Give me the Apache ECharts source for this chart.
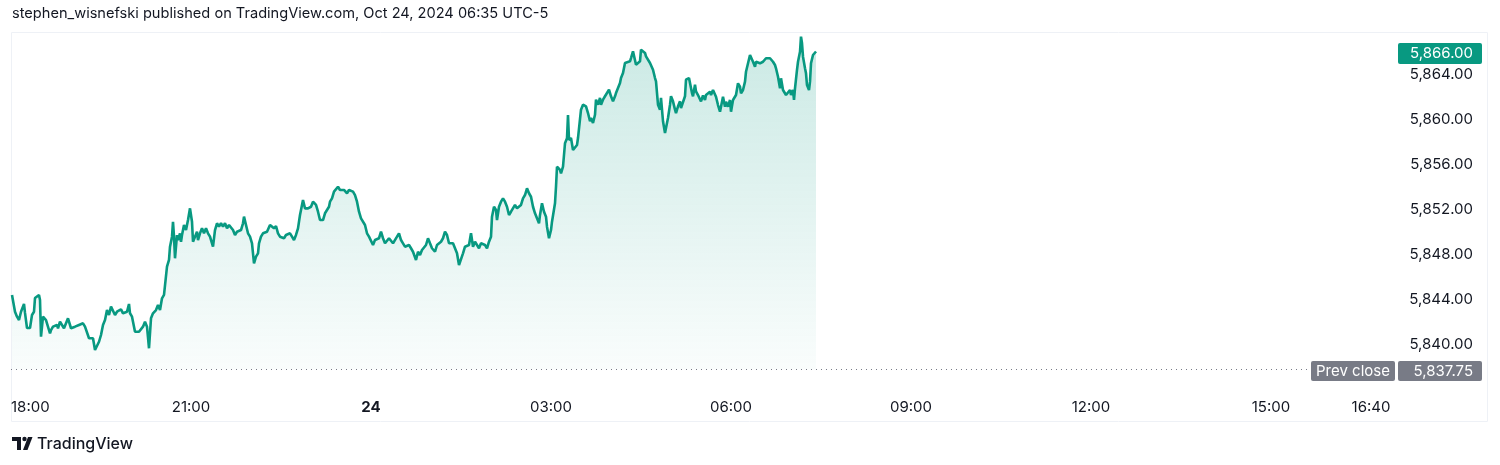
<!DOCTYPE html>
<html><head><meta charset="utf-8">
<script src="https://cdn.jsdelivr.net/npm/echarts@6/dist/echarts.min.js"></script>
<style>html,body{margin:0;padding:0;background:#fff}#c{width:1500px;height:465px}</style>
</head><body><div id="c"></div>
<script>
// minutes elapsed since 18:00 (Oct 23) and ES price
const minutes = [1,4,6,8,10,12,13,14,16,18,19,21,23,24,26,28,29,30,32,34,35,37,39,40,42,44,46,47,49,51,53,55,57,59,60,62,64,66,68,70,72,74,76,78,80,82,84,86,88,90,92,94,96,98,100,102,104,106,108,110,112,114,116,118,119,121,123,124,126,128,130,132,134,136,138,140,142,145,147,149,151,153,155,156,158,159,161,162,163,164,166,167,169,170,171,173,175,176,177,179,181,182,184,186,187,189,191,193,195,197,199,201,202,204,206,208,210,212,214,216,218,220,222,224,226,228,230,232,233,235,237,239,241,243,245,247,248,250,252,254,256,258,259,261,263,265,267,269,271,273,275,277,279,281,283,285,287,289,290,292,294,295,297,299,300,302,304,305,307,309,310,312,314,316,318,319,321,323,325,327,329,331,333,335,336,338,340,342,344,346,348,350,352,354,356,358,360,362,364,366,368,370,372,374,376,378,380,382,384,386,388,390,392,394,396,398,400,402,403,405,407,409,411,413,415,417,419,421,424,426,428,430,432,434,436,438,440,442,444,446,448,450,452,454,456,458,460,462,464,466,468,470,472,474,476,478,480,481,483,485,486,488,490,492,494,496,498,500,502,504,506,508,510,512,514,516,518,520,522,524,526,528,529,531,533,535,536,538,540,541,542,544,545,546,548,549,550,552,553,554,556,557,558,560,562,566,567,570,572,574,575,577,579,580,582,584,585,587,589,590,592,594,596,598,600,602,604,605,607,609,610,612,613,614,616,619,620,622,624,625,627,629,630,632,634,635,637,639,640,642,644,645,647,649,650,652,654,655,657,659,660,662,664,665,667,669,670,672,674,675,678,680,681,682,684,685,687,689,690,692,694,695,697,699,700,702,704,705,707,709,710,712,714,715,717,719,720,722,724,725,727,729,730,732,734,735,737,739,740,742,744,745,747,749,750,752,754,755,757,759,760,762,764,765,767,769,770,772,774,775,777,779,780,782,783,784,786,787,789,790,791,792,794,795,796,798,799,800,802,803,804,805];
const prices = [5844.36,5842.87,5842.43,5842.13,5842.87,5843.02,5843.56,5842.76,5841.42,5841.54,5841.42,5842.58,5842.87,5844.09,5844.00,5844.36,5843.91,5840.65,5842.43,5842.58,5842.13,5841.98,5840.95,5841.24,5841.54,5841.40,5841.69,5841.40,5841.98,5841.69,5841.40,5841.84,5842.28,5842.28,5841.40,5841.40,5841.54,5841.40,5841.69,5841.54,5841.84,5841.54,5841.69,5840.51,5840.36,5840.51,5839.47,5839.47,5840.20,5840.80,5841.69,5842.13,5843.02,5842.58,5843.32,5843.47,5842.58,5842.87,5842.73,5843.08,5842.73,5842.87,5842.87,5843.56,5842.73,5842.43,5842.28,5841.09,5841.24,5841.09,5840.95,5841.54,5841.98,5841.54,5839.62,5842.28,5842.73,5843.02,5843.47,5843.02,5844.06,5844.36,5844.36,5846.87,5847.47,5848.65,5849.54,5850.87,5849.54,5847.62,5849.69,5849.24,5849.84,5849.09,5849.69,5850.58,5850.13,5850.58,5851.02,5852.06,5850.87,5849.09,5849.54,5849.98,5849.24,5849.84,5850.28,5849.84,5850.28,5849.84,5849.54,5848.95,5848.65,5850.13,5850.73,5850.43,5850.73,5850.43,5850.73,5850.28,5850.58,5850.43,5850.13,5849.69,5849.98,5849.84,5850.13,5850.73,5851.32,5850.58,5849.84,5849.54,5848.95,5847.17,5847.76,5848.06,5848.95,5849.54,5849.84,5849.84,5849.98,5850.13,5850.58,5850.43,5850.28,5850.49,5849.84,5849.54,5849.40,5849.40,5849.69,5849.84,5849.84,5849.54,5849.24,5849.69,5850.28,5851.47,5851.62,5852.80,5852.06,5851.91,5852.06,5851.91,5852.20,5852.65,5852.80,5852.36,5851.76,5851.02,5850.87,5851.02,5851.62,5851.91,5852.20,5852.65,5852.95,5853.54,5853.69,5853.98,5853.69,5853.54,5853.69,5853.84,5853.40,5853.69,5853.84,5853.54,5853.24,5852.65,5851.76,5851.17,5851.02,5850.58,5849.84,5849.54,5849.54,5848.80,5849.24,5849.09,5849.40,5849.98,5849.40,5848.95,5849.09,5849.40,5849.54,5848.95,5849.09,5849.54,5849.84,5849.24,5848.95,5848.65,5848.80,5848.80,5848.51,5848.20,5848.36,5847.47,5848.20,5847.91,5848.36,5848.20,5848.80,5849.40,5848.95,5848.51,5848.20,5848.80,5848.65,5849.09,5849.40,5849.98,5849.69,5848.95,5849.09,5848.95,5849.09,5848.06,5847.02,5846.87,5848.06,5848.65,5848.80,5848.80,5849.84,5848.65,5849.09,5848.80,5848.51,5848.95,5849.09,5848.80,5848.51,5849.09,5849.54,5851.32,5852.20,5851.91,5851.02,5852.20,5852.65,5852.95,5852.65,5852.20,5851.47,5851.76,5851.91,5852.36,5852.06,5851.91,5852.36,5852.95,5853.24,5853.84,5853.40,5853.09,5852.20,5851.62,5851.17,5850.73,5851.47,5852.51,5851.76,5851.32,5850.43,5849.40,5850.13,5850.87,5850.73,5852.51,5853.98,5855.76,5855.91,5855.47,5855.17,5855.76,5856.80,5857.84,5858.28,5860.36,5858.13,5858.31,5857.24,5857.69,5858.31,5860.83,5861.27,5861.42,5861.13,5860.53,5859.80,5860.09,5859.64,5860.38,5861.72,5861.27,5861.87,5861.27,5861.72,5862.02,5862.16,5862.60,5862.02,5861.57,5862.02,5862.31,5862.31,5863.20,5863.64,5864.09,5864.24,5864.98,5865.13,5865.13,5865.42,5866.02,5865.87,5864.83,5864.68,5865.13,5866.16,5866.31,5865.87,5865.57,5865.42,5864.98,5865.13,5864.38,5863.64,5863.35,5861.27,5860.83,5861.87,5859.80,5858.76,5858.60,5860.09,5861.27,5862.02,5861.57,5860.83,5860.53,5861.13,5861.57,5860.98,5860.83,5862.02,5863.49,5863.64,5863.64,5862.31,5862.02,5863.05,5862.46,5862.13,5862.13,5861.56,5862.09,5861.69,5862.13,5861.98,5862.43,5862.13,5862.58,5862.43,5861.98,5861.24,5860.65,5860.80,5861.98,5861.09,5861.54,5861.09,5861.69,5860.65,5861.69,5861.84,5862.13,5863.17,5862.87,5862.28,5862.58,5863.32,5864.20,5864.36,5865.69,5865.84,5865.09,5864.65,5865.09,5864.95,5864.95,5864.80,5865.09,5865.09,5865.40,5865.40,5865.40,5865.24,5865.09,5864.80,5864.51,5863.76,5862.73,5863.62,5862.58,5862.43,5862.13,5861.98,5862.58,5862.13,5862.58,5861.69,5862.73,5864.36,5865.09,5865.98,5867.32,5866.73,5865.54,5864.51,5864.06,5863.02,5862.58,5863.32,5864.95,5865.69,5865.54,5865.69,5866.00];
const prevClose = 5837.75;
const lastPrice = 5866.00;
const timeTicks = [0,180,360,540,720,900,1080,1260,1360];
const timeLabels = ['18:00','21:00','24','03:00','06:00','09:00','12:00','15:00','16:40'];
const priceTicks = [5840,5844,5848,5852,5856,5860,5864];
const titleText = 'stephen_wisnefski published on TradingView.com, Oct 24, 2024 06:35 UTC-5';
const brandText = 'TradingView';
const prevCloseText = 'Prev close';

const FONT = 'Inter, "Noto Sans", "DejaVu Sans", sans-serif';
const TXT = '#131722';
const chart = echarts.init(document.getElementById('c'), null, {renderer: 'canvas'});
const fmt = v => Number(v).toLocaleString('en-US', {minimumFractionDigits: 2, maximumFractionDigits: 2});

chart.setOption({
  animation: false,
  grid: {left: 11, right: 104, top: 29, height: 360, containLabel: false},
  xAxis: {
    type: 'value', min: 0, max: 1385,
    axisLine: {show: false}, axisTick: {show: false}, splitLine: {show: false},
    axisLabel: {
      customValues: timeTicks,
      formatter: v => { const s = timeLabels[timeTicks.indexOf(v)]; return s === '24' ? '{b|24}' : s; },
      color: TXT, fontSize: 15, fontFamily: FONT, margin: 11, alignMinLabel: 'left',
      rich: {b: {fontWeight: 'bold', fontSize: 15, fontFamily: FONT, color: TXT}}
    }
  },
  yAxis: {
    type: 'value', position: 'right', min: 5836, max: 5868, interval: 4,
    axisLine: {show: false}, axisTick: {show: false}, splitLine: {show: false},
    axisLabel: {customValues: priceTicks, formatter: v => fmt(v), align: 'right', margin: 77,
      padding: [4, 0, 0, 0], color: TXT, fontSize: 15, fontFamily: FONT}
  },
  series: [{
    type: 'line', data: minutes.map((m, i) => [m, prices[i]]),
    showSymbol: false, symbol: 'none', silent: true,
    lineStyle: {color: '#089981', width: 2.6},
    areaStyle: {origin: prevClose, color: new echarts.graphic.LinearGradient(0, 0, 0, 1, [
      {offset: 0, color: 'rgba(8,153,129,0.30)'}, {offset: 1, color: 'rgba(8,153,129,0.03)'}])},
    markLine: {silent: true, symbol: ['none', 'none'], label: {show: false},
      lineStyle: {color: '#787b86', type: [1, 4], width: 1}, data: [{yAxis: prevClose}]}
  }]
});

const yPrev = chart.convertToPixel({yAxisIndex: 0}, prevClose);
const yLast = chart.convertToPixel({yAxisIndex: 0}, lastPrice);
const xPane = chart.convertToPixel({xAxisIndex: 0}, 1385);
const boxW = 84;
chart.setOption({
  graphic: [
    {type: 'rect', silent: true, z: 0, shape: {x: 11.5, y: 32.5, width: 1476, height: 389},
      style: {fill: 'none', stroke: '#eef1f6', lineWidth: 1}},
    {type: 'text', x: 12, y: 14, style: {text: titleText, font: '14.6px ' + FONT, fill: TXT, textVerticalAlign: 'middle'}},
    // last price tag
    {type: 'rect', z: 10, shape: {x: xPane + 2, y: Math.round(yLast) - 9, width: boxW, height: 21, r: 2}, style: {fill: '#089981'}},
    {type: 'text', z: 11, x: xPane + 77, y: Math.round(yLast) + 1.5, style: {text: fmt(lastPrice), font: '15px ' + FONT, fill: '#ffffff', textAlign: 'right', textVerticalAlign: 'middle'}},
    // prev close tags
    {type: 'rect', z: 10, shape: {x: xPane - 85, y: Math.round(yPrev) - 8, width: 84, height: 20, r: 2}, style: {fill: '#787b86'}},
    {type: 'text', z: 11, x: xPane - 43, y: Math.round(yPrev) + 2, style: {text: prevCloseText, font: '15px ' + FONT, fill: '#ffffff', textAlign: 'center', textVerticalAlign: 'middle'}},
    {type: 'rect', z: 10, shape: {x: xPane + 2, y: Math.round(yPrev) - 8, width: boxW, height: 20, r: 2}, style: {fill: '#787b86'}},
    {type: 'text', z: 11, x: xPane + 77, y: Math.round(yPrev) + 2, style: {text: fmt(prevClose), font: '15px ' + FONT, fill: '#ffffff', textAlign: 'right', textVerticalAlign: 'middle'}},
    // brand logo
    {type: 'rect', shape: {x: 12, y: 437, width: 9, height: 4}, style: {fill: TXT}},
    {type: 'rect', shape: {x: 17, y: 437, width: 4, height: 13}, style: {fill: TXT}},
    {type: 'circle', shape: {cx: 24.5, cy: 439, r: 2.2}, style: {fill: TXT}},
    {type: 'polygon', shape: {points: [[28, 437], [32.5, 437], [27.5, 450], [23, 450]]}, style: {fill: TXT}},
    {type: 'text', x: 37, y: 444, style: {text: brandText, font: '500 16px ' + FONT, fill: TXT, textVerticalAlign: 'middle'}}
  ]
});
</script>
</body></html>
